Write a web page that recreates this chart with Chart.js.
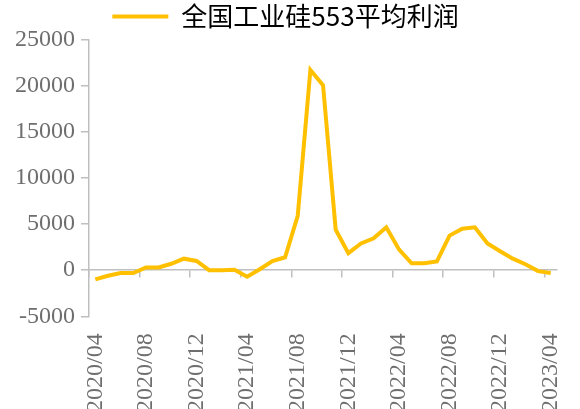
<!DOCTYPE html>
<html>
<head>
<meta charset="utf-8">
<script src="https://cdn.jsdelivr.net/npm/chart.js@4"></script>
<style>
  html, body { margin: 0; padding: 0; background: #ffffff; overflow: hidden; }
  #wrap { width: 580px; height: 409px; }
</style>
</head>
<body>
<div id="wrap"><canvas id="grafico"></canvas></div>
<script>
// Meses (eje X)
const meses = [
    '2020/04', '2020/05', '2020/06', '2020/07', '2020/08', '2020/09', '2020/10', '2020/11', '2020/12',
    '2021/01', '2021/02', '2021/03', '2021/04', '2021/05', '2021/06', '2021/07', '2021/08', '2021/09',
    '2021/10', '2021/11', '2021/12', '2022/01', '2022/02', '2022/03', '2022/04', '2022/05', '2022/06',
    '2022/07', '2022/08', '2022/09', '2022/10', '2022/11', '2022/12', '2023/01', '2023/02', '2023/03',
    '2023/04'
];

// 全国工业硅553平均利润
const beneficio = [
    -1000, -600, -300, -300, 300, 300, 700, 1250, 1000,
    0, 0, 50, -700, 100, 1000, 1400, 5900, 21700,
    20050, 4400, 1850, 2900, 3450, 4650, 2250, 750, 750,
    950, 3750, 4500, 4650, 2900, 2050, 1250, 650, -100,
    -300
];

const nombreSerie = '全国工业硅553平均利润';
const colorLinea = '#FFC000';
const colorEje = '#BFBFBF';
const colorTexto = '#6E6E6E';

const fuenteEjes = { family: '"Liberation Serif", "Times New Roman", serif', size: 24 };

const ctx = document.getElementById('grafico').getContext('2d');

new Chart(ctx, {
    type: 'line',
    data: {
        labels: meses,
        datasets: [{
            label: nombreSerie,
            data: beneficio,
            borderColor: colorLinea,
            backgroundColor: colorLinea,
            borderWidth: 4,
            pointRadius: 0,
            tension: 0
        }]
    },
    options: {
        responsive: true,
        maintainAspectRatio: false,
        animation: false,
        layout: { padding: { left: 9, right: 18, top: 1, bottom: -20 } },
        plugins: {
            tooltip: { enabled: false },
            legend: {
                display: true,
                position: 'top',
                labels: {
                    boxWidth: 56,
                    boxHeight: 4,
                    padding: 2.5,
                    color: '#000000',
                    font: { family: '"Noto Sans CJK SC", sans-serif', size: 26 },
                    generateLabels: (chart) => Chart.defaults.plugins.legend.labels.generateLabels(chart)
                        .map(item => ({ ...item, lineWidth: 0, fillStyle: colorLinea }))
                }
            }
        },
        scales: {
            // eje de etiquetas abajo (se cortan por el borde inferior como en el original)
            x: {
                type: 'category',
                position: 'bottom',
                offset: true,
                border: { display: false },
                grid: { display: false, drawTicks: false },
                ticks: {
                    autoSkip: false,
                    minRotation: 90,
                    maxRotation: 90,
                    padding: 17,
                    color: colorTexto,
                    font: { ...fuenteEjes, lineHeight: 0.5 },
                    callback: function (val, i) { return i % 4 === 0 ? this.getLabelForValue(val) : ''; }
                }
            },
            // línea del cero con marcas cada 4 meses
            xCero: {
                type: 'category',
                axis: 'x',
                labels: meses,
                position: { y: 0 },
                offset: true,
                border: { display: true, color: colorEje, width: 1.5 },
                grid: {
                    offset: true,
                    drawOnChartArea: false,
                    drawTicks: true,
                    tickLength: 7,
                    lineWidth: 1.5,
                    color: (c) => (c.index % 4 === 0 && c.index < meses.length) ? colorEje : 'rgba(0,0,0,0)'
                },
                ticks: { display: false, autoSkip: false }
            },
            y: {
                min: -5000,
                max: 25000,
                border: { display: true, color: colorEje, width: 1.5 },
                grid: { drawOnChartArea: false, drawTicks: true, tickLength: 8, color: colorEje, lineWidth: 1.5 },
                ticks: {
                    stepSize: 5000,
                    padding: 6,
                    color: colorTexto,
                    font: fuenteEjes,
                    callback: (v) => String(v)
                }
            }
        }
    }
});
</script>
</body>
</html>
